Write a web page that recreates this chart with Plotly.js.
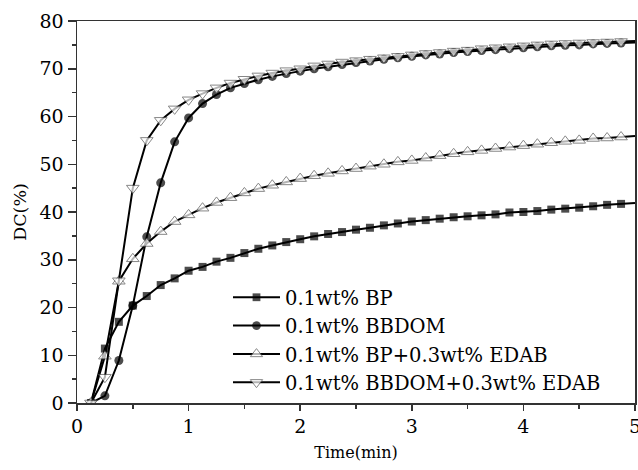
<!DOCTYPE html>
<html>
<head>
<meta charset="utf-8">
<script src="https://cdn.plot.ly/plotly-3.0.1.min.js"></script>
<style>html,body{margin:0;padding:0;background:#fff;}#chart{width:638px;height:470px;}</style>
</head>
<body>
<div id="chart"></div>
<script>
var time = [0.125,0.25,0.375,0.5,0.625,0.75,0.875,1.0,1.125,1.25,1.375,1.5,1.625,1.75,1.875,2.0,2.125,2.25,2.375,2.5,2.625,2.75,2.875,3.0,3.125,3.25,3.375,3.5,3.625,3.75,3.875,4.0,4.125,4.25,4.375,4.5,4.625,4.75,4.875,5.0];
var bp = [0,11.4,17.0,20.4,22.4,24.7,26.1,27.7,28.5,29.6,30.4,31.4,32.3,33.0,33.7,34.3,34.9,35.4,35.8,36.3,36.7,37.2,37.6,38.0,38.3,38.6,38.9,39.1,39.3,39.5,39.9,40.0,40.2,40.5,40.7,40.9,41.2,41.5,41.7,41.9];
var bbdom = [0,1.5,8.9,20.4,34.8,46.1,54.7,59.7,62.7,64.6,66.0,66.9,67.7,68.4,69.0,69.5,70.0,70.4,70.9,71.3,71.6,72.0,72.3,72.6,72.9,73.1,73.4,73.6,73.8,74.0,74.2,74.4,74.6,74.8,74.9,75.0,75.2,75.3,75.4,75.5];
var bpEdab = [0,9.8,25.5,30.2,33.4,35.9,38.0,39.4,40.8,42.0,43.0,44.0,44.9,45.6,46.3,47.0,47.6,48.1,48.6,49.1,49.6,50.0,50.5,50.8,51.3,51.8,52.2,52.6,52.9,53.3,53.6,53.9,54.2,54.5,54.8,55.0,55.4,55.5,55.7,55.9];
var bbdomEdab = [0,5.4,25.6,45.0,55.0,59.2,61.6,63.5,64.8,66.0,67.0,67.8,68.5,69.1,69.6,70.0,70.6,71.0,71.4,71.7,72.0,72.3,72.6,72.9,73.2,73.4,73.7,73.9,74.2,74.4,74.6,74.8,75.0,75.2,75.3,75.4,75.5,75.6,75.7,75.8];
var seriesNames = ['0.1wt% BP','0.1wt% BBDOM','0.1wt% BP+0.3wt% EDAB','0.1wt% BBDOM+0.3wt% EDAB'];
var xTickVals = [0,1,2,3,4,5];
var yTickVals = [0,10,20,30,40,50,60,70,80];

var FONT = 'DejaVu Serif, Liberation Serif, serif';
function sizes(s){ return time.map(function(t){ return t < 5 ? s : 0; }); }
function mk(y, name, sym, sz, fill, lc, lw){
  return {x: time, y: y, name: name, type: 'scatter', mode: 'lines+markers',
    line: {color: '#000', width: 2},
    marker: {symbol: sym, size: sizes(sz), color: fill, line: {color: lc, width: lw}}};
}
var data = [
  mk(bp, seriesNames[0], 'square', 8, '#000', '#000', 0),
  mk(bbdom, seriesNames[1], 'circle', 9, '#000', '#000', 0),
  mk(bpEdab, seriesNames[2], 'triangle-up', 11, '#fff', '#555', 1),
  mk(bbdomEdab, seriesNames[3], 'triangle-down', 11, '#fff', '#555', 1)
];
var layout = {
  width: 638, height: 470,
  margin: {l: 77, r: 3, t: 21, b: 67},
  paper_bgcolor: '#fff', plot_bgcolor: '#fff',
  font: {family: FONT, color: '#000', size: 19},
  showlegend: true,
  legend: {x: 0.2706, y: 0.327, xanchor: 'left', yanchor: 'top', bgcolor: 'rgba(0,0,0,0)',
    itemwidth: 47, tracegroupgap: 0,
    font: {family: FONT, size: 19.5, color: '#000'}},
  xaxis: {range: [0, 5], tickvals: xTickVals, ticks: 'outside', ticklen: 6, tickwidth: 1.5, tickcolor: '#333',
    ticklabeloverflow: 'allow',
    showgrid: false, zeroline: false, showline: true, linecolor: '#333', linewidth: 1.5, mirror: true,
    minor: {dtick: 0.5, ticks: 'outside', ticklen: 4, tickcolor: '#333', tickwidth: 1.5, showgrid: false},
    tickfont: {family: FONT, size: 19},
    title: {text: 'Time(min)', font: {family: FONT, size: 16}, standoff: 10}},
  yaxis: {range: [0, 80], tickvals: yTickVals, ticks: 'outside', ticklen: 8, tickwidth: 1.5, tickcolor: '#333',
    showgrid: false, zeroline: false, showline: true, linecolor: '#333', linewidth: 1.5, mirror: true,
    minor: {dtick: 5, ticks: 'outside', ticklen: 4, tickcolor: '#333', tickwidth: 1.5, showgrid: false},
    tickfont: {family: FONT, size: 19},
    title: {text: 'DC(%)', font: {family: FONT, size: 17.5}, standoff: 8}}
};
Plotly.newPlot('chart', data, layout, {displayModeBar: false, staticPlot: true});
</script>
</body>
</html>
